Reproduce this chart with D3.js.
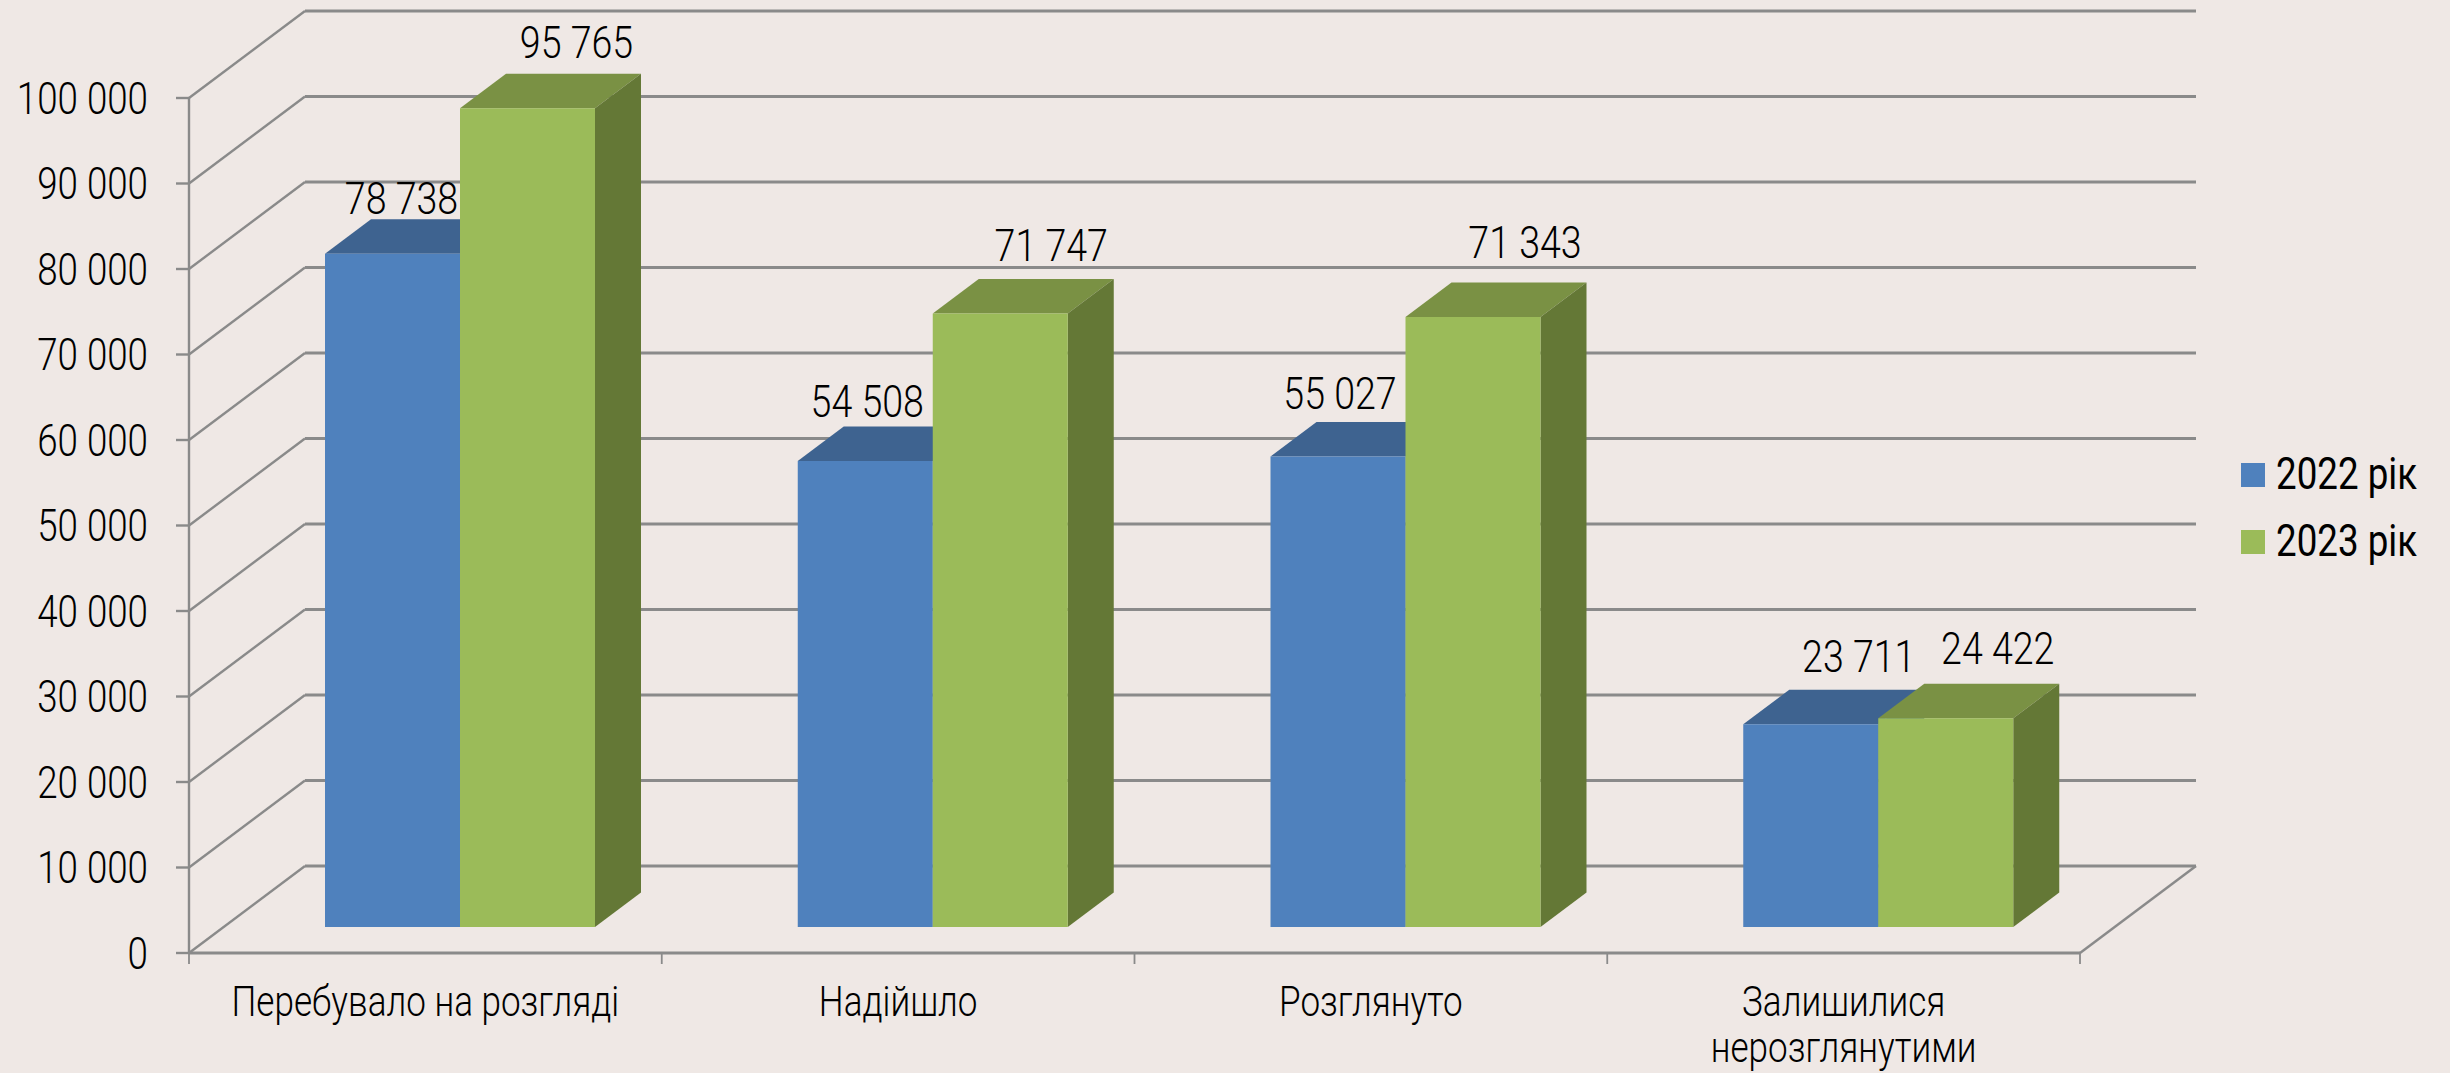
<!DOCTYPE html>
<html><head><meta charset="utf-8">
<script src="https://cdn.jsdelivr.net/npm/d3@7"></script>
<style>
html,body{margin:0;padding:0;background:#efe8e5}
svg{display:block}
text{font-family:Roboto,sans-serif;fill:#000}
</style></head><body><div id="chart"></div>
<script>
const categories = ["Перебувало на розгляді","Надійшло","Розглянуто","Залишилися|нерозглянутими"];
const seriesNames = ["2022 рік","2023 рік"];
const values2022 = [78738,54508,55027,23711];
const values2023 = [95765,71747,71343,24422];
const valueLabels2022 = ["78 738","54 508","55 027","23 711"];
const valueLabels2023 = ["95 765","71 747","71 343","24 422"];
const tickValues = [0,10000,20000,30000,40000,50000,60000,70000,80000,90000,100000];
const tickLabels = ["0","10 000","20 000","30 000","40 000","50 000","60 000","70 000","80 000","90 000","100 000"];

// layout
const W=2450,H=1073;
const wallDx=116, wallDy=87, barDx=46, barDy=34.5, barLift=26;
const barInset=136, barW=135;
const labelOff2022=[[9,-40],[2,-43.5],[2,-48],[48,-52]];
const labelOff2023=[[49,-50],[51,-52.5],[52,-59],[52,-54]];
const condensed=0.835;
const grid="#8a8a8a";
const fills=[{front:"#4f81bd",top:"#3e6390",side:"#3e6390"},{front:"#9bbb59",top:"#7a9144",side:"#647836"}];

const svg=d3.select("#chart").append("svg").attr("width",W).attr("height",H);
svg.append("rect").attr("width",W).attr("height",H).attr("fill","#efe8e5");

const y=d3.scaleLinear().domain([0,100000]).range([953,98]);
const x=d3.scaleBand().domain(categories).range([189,2080]);

function label(g,tx,ty,str,size,anchor,weight){
  return g.append("text").attr("transform",`translate(${tx},${ty}) scale(${condensed},1)`)
    .attr("text-anchor",anchor).attr("font-size",size).attr("font-weight",weight||300).text(str);
}

// walls
const walls=svg.append("g").attr("stroke",grid).attr("fill","none");
tickValues.forEach(v=>{
  const yy=y(v);
  walls.append("path").attr("stroke-width",2.4).attr("d",d3.line()([[189,yy],[189+wallDx,yy-wallDy]]));
  if(v>0) walls.append("line").attr("stroke-width",3).attr("x1",189+wallDx).attr("x2",2080+wallDx).attr("y1",yy-wallDy).attr("y2",yy-wallDy);
  walls.append("line").attr("stroke-width",2.4).attr("x1",176).attr("x2",189).attr("y1",yy).attr("y2",yy);
});
// floor
walls.append("line").attr("stroke-width",3).attr("x1",189).attr("x2",2080).attr("y1",y(0)).attr("y2",y(0));
walls.append("line").attr("stroke-width",3).attr("x1",189+wallDx).attr("x2",2080+wallDx).attr("y1",y(0)-wallDy).attr("y2",y(0)-wallDy);
walls.append("path").attr("stroke-width",2.4).attr("d",d3.line()([[2080,y(0)],[2080+wallDx,y(0)-wallDy]]));
walls.append("line").attr("stroke-width",2.4).attr("x1",189).attr("x2",189).attr("y1",y(100000)).attr("y2",y(0));
[189].concat(categories.map(c=>x(c)+x.bandwidth())).forEach(px=>{
  walls.append("line").attr("stroke-width",1.8).attr("x1",px).attr("x2",px).attr("y1",y(0)).attr("y2",y(0)+11);
});

// y axis labels
const yLabels=svg.append("g");
tickValues.forEach((v,i)=>label(yLabels,148,y(v)+15.5,tickLabels[i],44,"end"));

// bars
const poly=(g,pts,fill)=>g.append("path").attr("d",d3.line()(pts)+"Z").attr("fill",fill);
const bars=svg.append("g");
categories.forEach((c,ci)=>{
  [values2022,values2023].forEach((vals,si)=>{
    const v=vals[ci], col=fills[si];
    const x0=x(c)+barInset+si*barW, x1=x0+barW;
    const yb=y(0)-barLift, yt=y(v)-barLift;
    poly(bars,[[x0,yt],[x1,yt],[x1+barDx,yt-barDy],[x0+barDx,yt-barDy]],col.top);
    poly(bars,[[x1,yt],[x1+barDx,yt-barDy],[x1+barDx,yb-barDy],[x1,yb]],col.side);
    poly(bars,[[x0,yt],[x1,yt],[x1,yb],[x0,yb]],col.front);
  });
});

// value labels
const vl=svg.append("g");
categories.forEach((c,ci)=>{
  [[values2022,valueLabels2022,labelOff2022],[values2023,valueLabels2023,labelOff2023]].forEach(([vals,txt,off],si)=>{
    const cx=x(c)+barInset+si*barW+barW/2, ty=y(vals[ci])-barLift;
    label(vl,cx+off[ci][0],ty+off[ci][1],txt[ci],45,"middle");
  });
});

// category labels
const cl=svg.append("g");
categories.forEach(c=>{
  const cx=x(c)+x.bandwidth()/2;
  c.split("|").forEach((ln,i)=>label(cl,cx,1015.5+i*46.5,ln,42,"middle"));
});

// legend
const legend=svg.append("g");
seriesNames.forEach((s,i)=>{
  const ly=463+i*67;
  legend.append("rect").attr("x",2241).attr("y",ly).attr("width",24).attr("height",24).attr("fill",fills[i].front);
  label(legend,2276,ly+26,s,44,"start",400);
});
</script></body></html>
